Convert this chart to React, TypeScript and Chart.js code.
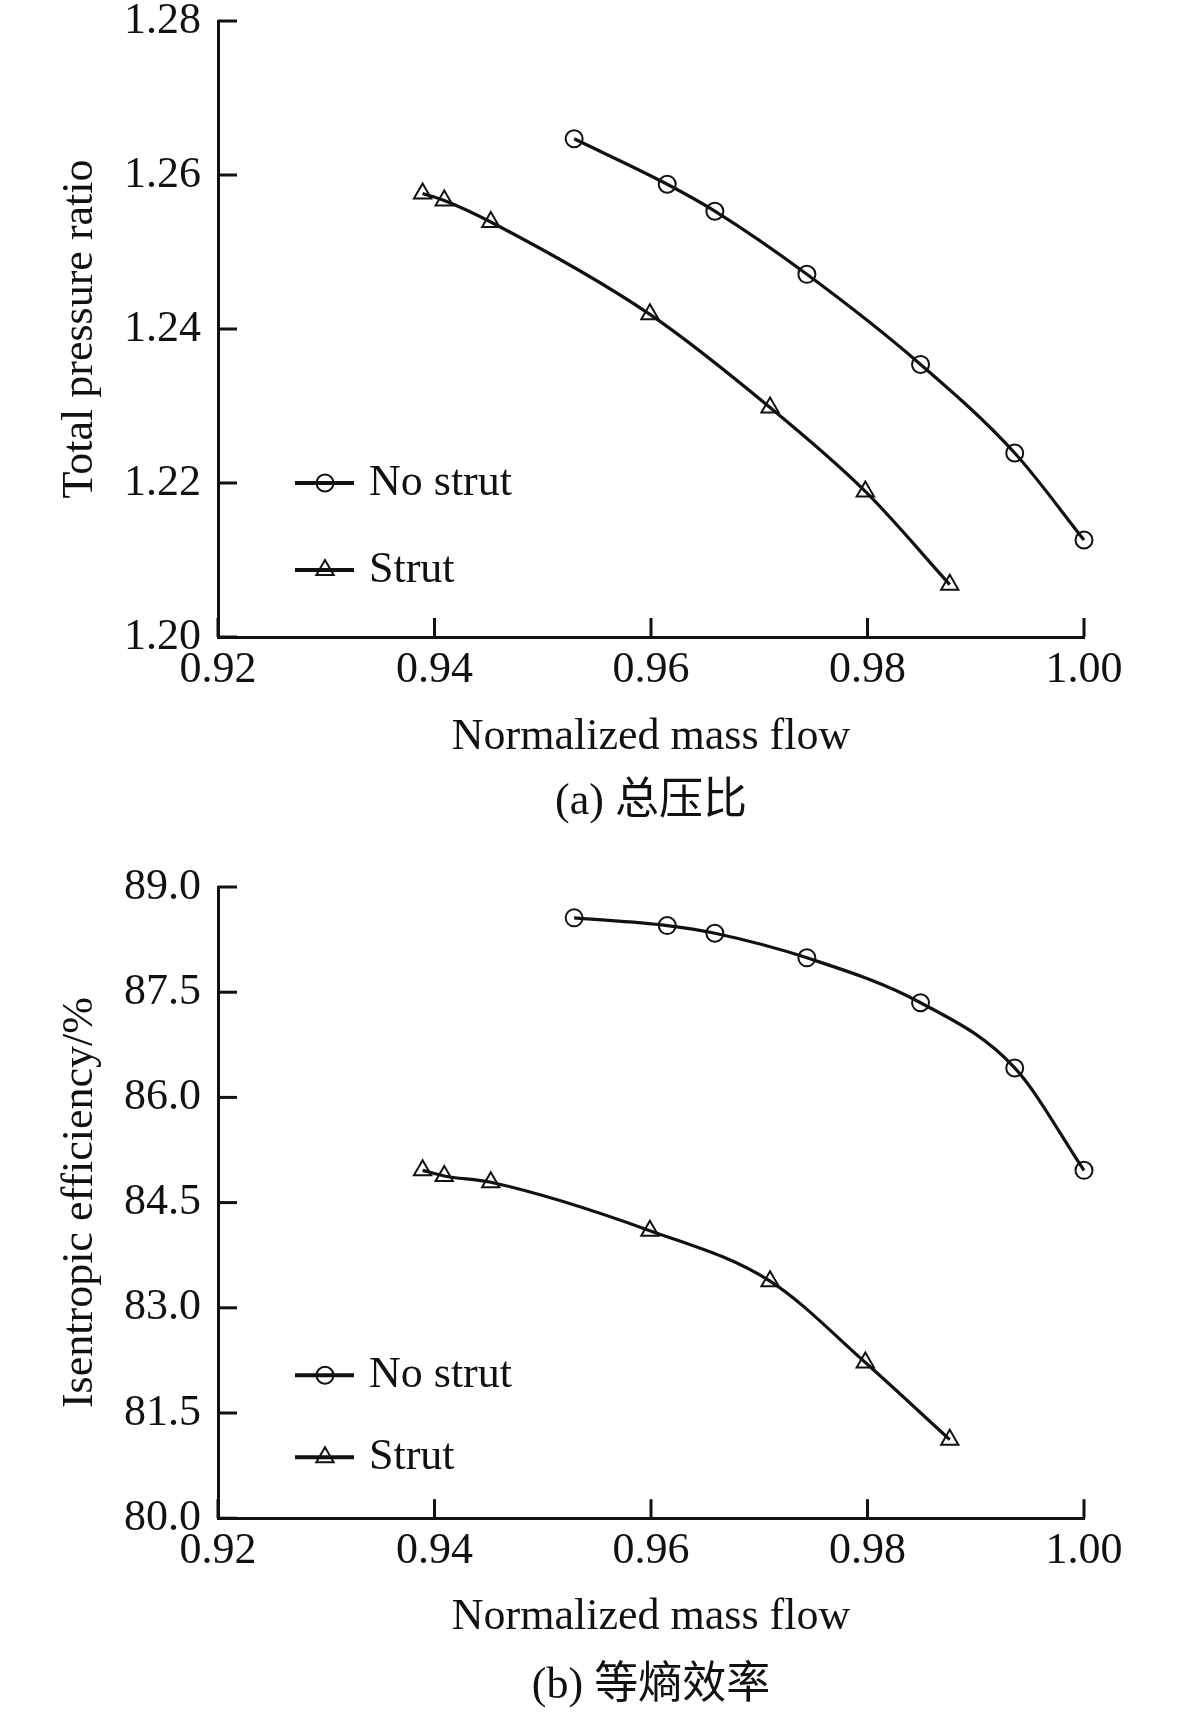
import React, { useEffect, useRef } from "react";
import { Chart, registerables } from "chart.js";

Chart.register(...registerables);

// ---------------- DATA ----------------
const seriesNames = ["No strut", "Strut"];
const massFlowNoStrut = [0.9529, 0.9615, 0.9659, 0.9744, 0.9849, 0.9936, 1.0];
const massFlowStrut = [0.9389, 0.9409, 0.9452, 0.9599, 0.971, 0.9798, 0.9876];
const pressureNoStrut = [1.2647, 1.2588, 1.2553, 1.2471, 1.2354, 1.2239, 1.2126];
const pressureStrut = [1.2576, 1.2567, 1.2539, 1.2419, 1.2298, 1.2189, 1.2068];
const effNoStrut = [88.56, 88.45, 88.34, 87.99, 87.35, 86.42, 84.96];
const effStrut = [84.96, 84.88, 84.79, 84.1, 83.38, 82.22, 81.12];
const xTickRange = { min: 0.92, max: 1.0, step: 0.02 };
const pressureTickRange = { min: 1.2, max: 1.28, step: 0.02 };
const effTickRange = { min: 80.0, max: 89.0, step: 1.5 };
const xTitle = "Normalized mass flow";
const pressureTitle = "Total pressure ratio";
const effTitle = "Isentropic efficiency/%";
const captionA = "(a) 总压比";
const captionB = "(b) 等熵效率";

const FONT = '"Liberation Serif", "Times New Roman", "Noto Sans CJK SC", serif';
const INK = "#111";

const pointStyles = ["circle", "triangle"];

const tickMarksPlugin = {
  id: "innerTicks",
  afterDraw(chart: any) {
    const { ctx, chartArea, scales } = chart;
    const xs = scales.x;
    const ys = scales.y;
    ctx.save();
    ctx.strokeStyle = INK;
    ctx.lineWidth = 3;
    xs.ticks.forEach((t: any) => {
      const px = xs.getPixelForValue(t.value);
      ctx.beginPath();
      ctx.moveTo(px, chartArea.bottom);
      ctx.lineTo(px, chartArea.bottom - 19);
      ctx.stroke();
    });
    ys.ticks.forEach((t: any) => {
      const py = ys.getPixelForValue(t.value);
      ctx.beginPath();
      ctx.moveTo(chartArea.left, py);
      ctx.lineTo(chartArea.left + 19, py);
      ctx.stroke();
    });
    ctx.restore();
  },
};

const innerLegendPlugin = {
  id: "innerLegend",
  afterDraw(chart: any, _args: any, opts: any) {
    const { ctx, chartArea } = chart;
    const offsets: number[] = opts.offsets || [];
    ctx.save();
    chart.data.datasets.forEach((ds: any, i: number) => {
      const y = chartArea.bottom - offsets[i];
      const x0 = chartArea.left + 77;
      const x1 = chartArea.left + 136;
      const xm = chartArea.left + 107;
      ctx.strokeStyle = INK;
      ctx.lineWidth = 4;
      ctx.beginPath();
      ctx.moveTo(x0, y);
      ctx.lineTo(x1, y);
      ctx.stroke();
      ctx.lineWidth = 2;
      ctx.beginPath();
      const r = ds.pointRadius;
      if (ds.pointStyle === "circle") {
        ctx.arc(xm, y, r, 0, Math.PI * 2);
      } else {
        ctx.moveTo(xm, y - r);
        ctx.lineTo(xm + 0.866 * r, y + 0.5 * r);
        ctx.lineTo(xm - 0.866 * r, y + 0.5 * r);
        ctx.closePath();
      }
      ctx.stroke();
      ctx.fillStyle = INK;
      ctx.font = `44px ${FONT}`;
      ctx.textAlign = "left";
      ctx.textBaseline = "middle";
      ctx.fillText(ds.label, chartArea.left + 151, y);
    });
    ctx.restore();
  },
};

function makeDatasets(xsArr: number[][], ysArr: number[][]) {
  return seriesNames.map((name, i) => ({
    label: name,
    data: xsArr[i].map((xv, k) => ({ x: xv, y: ysArr[i][k] })),
    borderColor: INK,
    borderWidth: 3.2,
    pointStyle: pointStyles[i],
    pointRadius: i === 0 ? 8.5 : 10,
    pointBorderWidth: 2,
    pointBackgroundColor: "rgba(0,0,0,0)",
    pointBorderColor: INK,
    fill: false,
    clip: false,
    cubicInterpolationMode: "monotone",
  }));
}

type PanelProps = {
  height: number;
  datasets: any[];
  yRange: { min: number; max: number; step: number };
  yDigits: number;
  yTitle: string;
  caption: string;
  padTop: number;
  padBottom: number;
  xScaleHeight: number;
  captionPadTop: number;
  legendOffsets: number[];
};

function Panel(p: PanelProps) {
  const ref = useRef<HTMLCanvasElement | null>(null);
  useEffect(() => {
    if (!ref.current) return;
    const xTickFont = { family: FONT, size: 44, lineHeight: 1 };
    const yTickFont = { family: FONT, size: 44, lineHeight: 0.1 };
    const titleFont = { family: FONT, size: 44, lineHeight: 1.2, weight: "normal" };
    const chart = new Chart(ref.current, {
      type: "line",
      data: { datasets: p.datasets },
      plugins: [tickMarksPlugin, innerLegendPlugin],
      options: {
        animation: false,
        responsive: false,
        devicePixelRatio: 1,
        layout: { padding: { top: p.padTop, left: 54, right: 97, bottom: p.padBottom } },
        plugins: {
          legend: { display: false },
          tooltip: { enabled: false },
          title: {
            display: true,
            text: p.caption,
            position: "bottom",
            fullSize: false,
            color: INK,
            font: titleFont,
            padding: { top: p.captionPadTop, bottom: 0 },
          },
          innerLegend: { offsets: p.legendOffsets },
        } as any,
        scales: {
          x: {
            type: "linear",
            min: xTickRange.min,
            max: xTickRange.max,
            grid: { display: false, drawTicks: false },
            border: { display: true, width: 3, color: INK },
            ticks: {
              stepSize: xTickRange.step,
              padding: 11,
              color: INK,
              font: xTickFont,
              maxRotation: 0,
              callback: (v: any) => Number(v).toFixed(2),
            },
            title: {
              display: true,
              text: xTitle,
              color: INK,
              font: titleFont,
              padding: { top: 0, bottom: 0 },
            },
            afterFit: (s: any) => {
              s.height = p.xScaleHeight;
            },
          },
          y: {
            type: "linear",
            min: p.yRange.min,
            max: p.yRange.max,
            grid: { display: false, drawTicks: false },
            border: { display: true, width: 3, color: INK },
            ticks: {
              stepSize: p.yRange.step,
              padding: 17,
              color: INK,
              font: yTickFont,
              callback: (v: any) => Number(v).toFixed(p.yDigits),
            },
            title: {
              display: true,
              text: p.yTitle,
              color: INK,
              font: titleFont,
              padding: { top: 0, bottom: 0 },
            },
            afterFit: (s: any) => {
              s.width = 164;
            },
          },
        },
      } as any,
    });
    return () => chart.destroy();
  }, []);
  return (
    <canvas
      ref={ref}
      width={1181}
      height={p.height}
      style={{ display: "block", width: 1181, height: p.height }}
    />
  );
}

export default function App() {
  return (
    <div style={{ position: "absolute", left: 0, top: 0, width: 1181, height: 1713, background: "#fff" }}>
      <Panel
        height={853}
        datasets={makeDatasets([massFlowNoStrut, massFlowStrut], [pressureNoStrut, pressureStrut])}
        yRange={pressureTickRange}
        yDigits={2}
        yTitle={pressureTitle}
        caption={captionA}
        padTop={21}
        padBottom={23.8}
        xScaleHeight={126.4}
        captionPadTop={13}
        legendOffsets={[154, 67]}
      />
      <Panel
        height={860}
        datasets={makeDatasets([massFlowNoStrut, massFlowStrut], [effNoStrut, effStrut])}
        yRange={effTickRange}
        yDigits={1}
        yTitle={effTitle}
        caption={captionB}
        padTop={34}
        padBottom={0}
        xScaleHeight={125.4}
        captionPadTop={16.6}
        legendOffsets={[143, 61]}
      />
    </div>
  );
}
